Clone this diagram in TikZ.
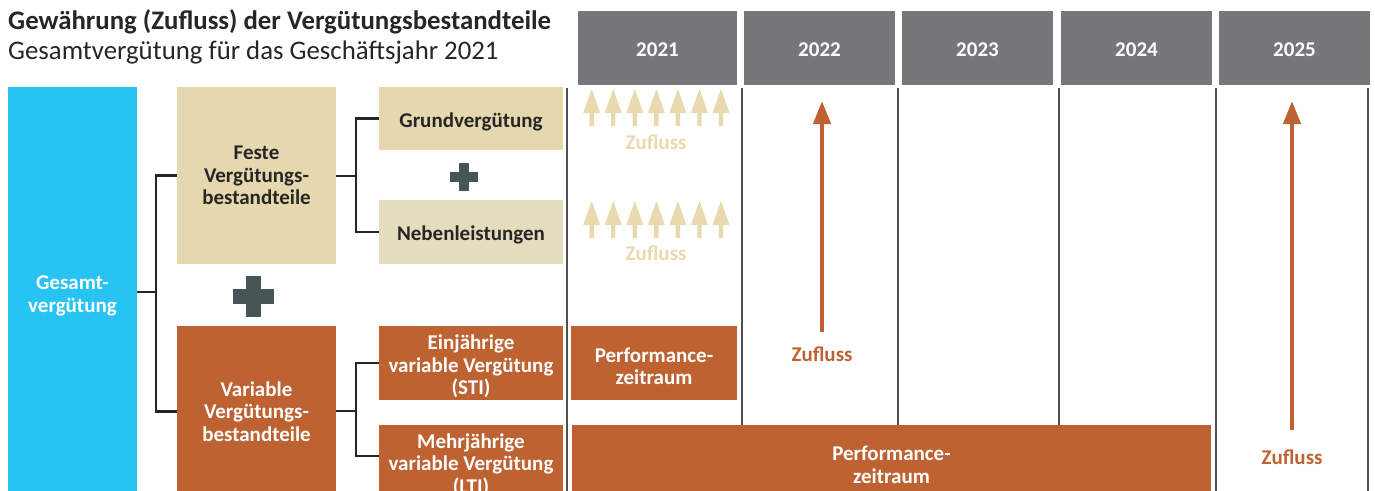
\documentclass[tikz,border=0pt]{standalone}
\usepackage{fontspec}
\setmainfont{Carlito}
\usetikzlibrary{arrows.meta}
\definecolor{hdr}{HTML}{76777B}
\definecolor{sky}{HTML}{27C4F3}
\definecolor{sand}{HTML}{E5D8AE}
\definecolor{sandlt}{HTML}{E4DDBD}
\definecolor{rust}{HTML}{BE6231}
\definecolor{pluscol}{HTML}{465555}
\definecolor{ink}{HTML}{262626}
\definecolor{gridcol}{HTML}{505050}
\definecolor{arrlt}{HTML}{E8D9AE}
\newcommand\topstrut[1]{\rule{0pt}{#1pt}}
\begin{document}
\begin{tikzpicture}[x=1pt,y=-1pt,
  box/.style={rectangle, inner sep=0pt, outer sep=0pt, align=center, anchor=north west,
    font=\fontsize{21}{22.5}\selectfont\bfseries},
  hdrbox/.style={box, fill=hdr, text=white, minimum height=74pt},
  sandbox/.style={box, fill=sand, text=ink},
  rustbox/.style={box, fill=rust, text=white},
  lbl/.style={inner sep=0pt, font=\fontsize{21}{22.5}\selectfont\bfseries},
  conn/.style={draw=ink, line width=2.3pt},
  gridline/.style={draw=gridcol, line width=1.5pt},
  bigarr/.style={draw=rust, line width=4.3pt, -{Triangle[width=17pt,length=23pt]}},
  plusfill/.style={fill=pluscol}
]
\useasboundingbox (0,0) rectangle (1375,490);
\clip (0,0) rectangle (1375,490);

% title
\node[anchor=base west, inner sep=0pt, font=\fontsize{26.8}{30}\selectfont\bfseries, text=ink] (title) at (8,29) {Gewährung (Zufluss) der Vergütungsbestandteile};
\node[anchor=base west, inner sep=0pt, font=\fontsize{26.8}{30}\selectfont, text=ink] (subtitle) at (8,59) {Gesamtvergütung für das Geschäftsjahr 2021};

% year headers
\node[hdrbox, minimum width=159pt] (y2021) at (578,11) {\topstrut{18}2021};
\node[hdrbox, minimum width=151pt] (y2022) at (744,11) {\topstrut{18}2022};
\node[hdrbox, minimum width=151pt] (y2023) at (902,11) {\topstrut{18}2023};
\node[hdrbox, minimum width=151pt] (y2024) at (1061,11) {\topstrut{18}2024};
\node[hdrbox, minimum width=151pt] (y2025) at (1219,11) {\topstrut{18}2025};

% grid lines
\foreach \gx in {567,742,898,1059,1216,1368} {
  \draw[gridline] (\gx,88) -- (\gx,497);
}

% left tree
\node[box, fill=sky, text=white, minimum width=129pt, minimum height=410pt] (gesamt) at (8,87) {\topstrut{22}Gesamt-\\vergütung};
\node[sandbox, minimum width=159pt, minimum height=177pt] (feste) at (177,87) {Feste\\Vergütungs-\\bestandteile};
\node[rustbox, minimum width=159pt, minimum height=171pt] (variable) at (177,326) {Variable\\Vergütungs-\\bestandteile};
\node[sandbox, minimum width=184pt, minimum height=63pt] (grund) at (379,87) {\topstrut{21}Grundvergütung};
\node[box, fill=sandlt, text=ink, minimum width=184pt, minimum height=64pt] (neben) at (379,200) {\topstrut{21}Nebenleistungen};
\node[rustbox, minimum width=184pt, minimum height=74pt] (sti) at (379,326) {\topstrut{22}Einjährige\\variable Vergütung\\(STI)};
\node[rustbox, minimum width=184pt, minimum height=72pt] (lti) at (379,425) {\topstrut{23}Mehrjährige\\variable Vergütung\\(LTI)};

\coordinate (j1) at (156,292);
\coordinate (j2) at (356,176);
\coordinate (j3) at (356,411);
\draw[conn] (gesamt.east |- j1) -- (j1);
\draw[conn] (j1) |- (feste.west);
\draw[conn] (j1) |- (variable.west);
\draw[conn] (feste.east |- j2) -- (j2);
\draw[conn] (j2) |- (grund.west);
\draw[conn] (j2) |- (neben.west);
\draw[conn] (variable.east |- j3) -- (j3);
\draw[conn] (j3) |- (sti.west);
\draw[conn] (j3) |- ([yshift=5pt]lti.west);

% plus signs
\fill[plusfill] (233,289) rectangle (274,304);
\fill[plusfill] (246,276) rectangle (261,317);
\fill[plusfill] (450,172) rectangle (478,182);
\fill[plusfill] (459,163) rectangle (469,191);

% performance periods
\node[rustbox, minimum width=166pt, minimum height=74pt] (perf1) at (571,326) {\topstrut{21}Performance-\\zeitraum};
\node[rustbox, minimum width=639pt, minimum height=72pt] (perf2) at (572,425) {\topstrut{22}Performance-\\zeitraum};

% small arrows 2021
\foreach \yt in {89,201} {
  \foreach \i in {0,...,6} {
    \pgfmathsetmacro\xx{591.7+21.55*\i}
    \fill[arrlt] (\xx,\yt) -- ++(8.5,24) -- ++(-6.3,0) -- ++(0,13) -- ++(-4.4,0) -- ++(0,-13) -- ++(-6.3,0) -- cycle;
  }
}
\node[lbl, text=arrlt] (zufA) at (656,142) {Zufluss};
\node[lbl, text=arrlt] (zufB) at (656,253) {Zufluss};

% big arrows
\node[lbl, text=rust] (zuf22) at (822,354) {Zufluss};
\node[lbl, text=rust] (zuf25) at (1292,457) {Zufluss};
\coordinate (s22) at (822,332);
\coordinate (t22) at (822,101);
\coordinate (s25) at (1292,430);
\coordinate (t25) at (1292,101);
\draw[bigarr] (s22) -- (t22);
\draw[bigarr] (s25) -- (t25);
\end{tikzpicture}
\end{document}
